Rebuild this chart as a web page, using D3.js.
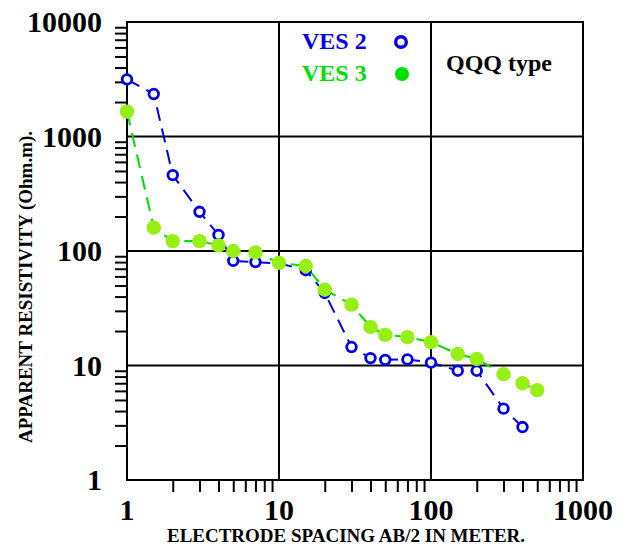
<!DOCTYPE html>
<meta charset="utf-8">
<script src="https://d3js.org/d3.v7.min.js"></script>
<style>
  body { margin: 0; background: #fff; }
  text { font-family: "Liberation Serif", "Times New Roman", serif; font-weight: bold; }
</style>
<div id="chart"></div>
<script>

    // electrode spacing AB/2 (m)
    var spacing = [1, 1.5, 2, 3, 4, 5, 7, 10, 15, 20, 30, 40, 50, 70, 100, 150, 200, 300, 400, 500];
    // apparent resistivity (Ohm.m)
    var ves2 = [3150, 2350, 460, 220, 138, 82, 80, 78, 68, 43, 14.5, 11.6, 11.2, 11.3, 10.6, 9, 9, 4.2, 2.9];
    var ves3 = [1650, 160, 122, 122, 112, 100, 97, 79, 74, 46, 34, 21.7, 18.5, 17.7, 16, 12.6, 11.4, 8.4, 7.0, 6.1];

    var xLabels = [1, 10, 100, 1000];
    var yLabels = [1, 10, 100, 1000, 10000];

    var blue = "#0000ee", green = "#00e000", greenDot = "#96f014";

    var margin = {top: 22, right: 44, bottom: 69, left: 127},
        width = 627 - margin.left - margin.right,
        height = 549 - margin.top - margin.bottom;

    var svg = d3.select("#chart")
      .append("svg")
        .attr("width", 627)
        .attr("height", 549)
      .append("g")
        .attr("transform", "translate(" + margin.left + "," + margin.top + ")");

    var x = d3.scaleLog().domain([1, 1000]).range([0, width]);
    var y = d3.scaleLog().domain([1, 10000]).range([height, 0]);

    var isDecade = function(d) { return Math.abs(Math.log10(d) - Math.round(Math.log10(d))) < 1e-9; };

    // minor ticks, outside the frame
    svg.append("g")
        .attr("transform", "translate(0," + height + ")")
        .call(d3.axisBottom(x).tickValues(x.ticks().filter(function(d) { return !isDecade(d); }))
              .tickSize(12).tickFormat(""))
        .call(function(g) { g.select(".domain").remove(); })
        .selectAll("line").attr("stroke", "#000").attr("stroke-width", 2);

    svg.append("g")
        .call(d3.axisLeft(y).tickValues(y.ticks().filter(function(d) { return !isDecade(d); }))
              .tickSize(12).tickFormat(""))
        .call(function(g) { g.select(".domain").remove(); })
        .selectAll("line").attr("stroke", "#000").attr("stroke-width", 2);

    // grid at the decades
    svg.append("g").selectAll("line")
        .data(xLabels.slice(1, -1))
        .enter().append("line")
          .attr("x1", function(d) { return x(d); })
          .attr("x2", function(d) { return x(d); })
          .attr("y1", 0).attr("y2", height)
          .attr("stroke", "#000").attr("stroke-width", 2);

    svg.append("g").selectAll("line")
        .data(yLabels.slice(1, -1))
        .enter().append("line")
          .attr("y1", function(d) { return y(d); })
          .attr("y2", function(d) { return y(d); })
          .attr("x1", 0).attr("x2", width)
          .attr("stroke", "#000").attr("stroke-width", 2);

    svg.append("rect")
        .attr("width", width).attr("height", height)
        .attr("fill", "none").attr("stroke", "#000").attr("stroke-width", 2);

    // tick labels
    svg.append("g").selectAll("text")
        .data(xLabels)
        .enter().append("text")
          .attr("x", function(d) { return x(d); })
          .attr("y", height + 40)
          .attr("text-anchor", "middle")
          .style("font-size", "30px")
          .text(function(d) { return d; });

    svg.append("g").selectAll("text")
        .data(yLabels)
        .enter().append("text")
          .attr("x", -25)
          .attr("y", function(d) { return y(d) + 10; })
          .attr("text-anchor", "end")
          .style("font-size", "30px")
          .text(function(d) { return d; });

    // axis titles
    svg.append("text")
        .attr("x", 346 - margin.left)
        .attr("y", 542 - margin.top)
        .attr("text-anchor", "middle")
        .style("font-size", "19px")
        .text("ELECTRODE SPACING AB/2 IN METER.");

    svg.append("text")
        .attr("transform", "translate(" + (32 - margin.left) + "," + (287 - margin.top) + ") rotate(-90)")
        .attr("text-anchor", "middle")
        .style("font-size", "19px")
        .text("APPARENT RESISTIVITY (Ohm.m).");

    // series
    var line = d3.line()
        .x(function(d) { return x(d[0]); })
        .y(function(d) { return y(d[1]); });

    var pts2 = ves2.map(function(v, i) { return [spacing[i], v]; });
    var pts3 = ves3.map(function(v, i) { return [spacing[i], v]; });

    svg.append("path").datum(pts2)
        .attr("d", line).attr("fill", "none")
        .attr("stroke", blue).attr("stroke-width", 2).attr("stroke-dasharray", "14,8");

    svg.append("path").datum(pts3)
        .attr("d", line).attr("fill", "none")
        .attr("stroke", green).attr("stroke-width", 2).attr("stroke-dasharray", "14,8");

    svg.append("g").selectAll("circle")
        .data(pts2)
        .enter().append("circle")
          .attr("cx", function(d) { return x(d[0]); })
          .attr("cy", function(d) { return y(d[1]); })
          .attr("r", 4.8)
          .attr("fill", "#fff")
          .attr("stroke", blue).attr("stroke-width", 2.8);

    svg.append("g").selectAll("circle")
        .data(pts3)
        .enter().append("circle")
          .attr("cx", function(d) { return x(d[0]); })
          .attr("cy", function(d) { return y(d[1]); })
          .attr("r", 7.2)
          .attr("fill", greenDot);

    // legend
    svg.append("text")
        .attr("x", 302 - margin.left).attr("y", 49 - margin.top)
        .attr("fill", blue).style("font-size", "24px")
        .text("VES 2");
    svg.append("circle")
        .attr("cx", 401 - margin.left).attr("cy", 42 - margin.top)
        .attr("r", 5.3).attr("fill", "none")
        .attr("stroke", blue).attr("stroke-width", 3.4);

    svg.append("text")
        .attr("x", 302 - margin.left).attr("y", 81 - margin.top)
        .attr("fill", green).style("font-size", "24px")
        .text("VES 3");
    svg.append("circle")
        .attr("cx", 402 - margin.left).attr("cy", 74 - margin.top)
        .attr("r", 7).attr("fill", green);

    svg.append("text")
        .attr("x", 446 - margin.left).attr("y", 71 - margin.top)
        .style("font-size", "24px")
        .text("QQQ type");

</script>
